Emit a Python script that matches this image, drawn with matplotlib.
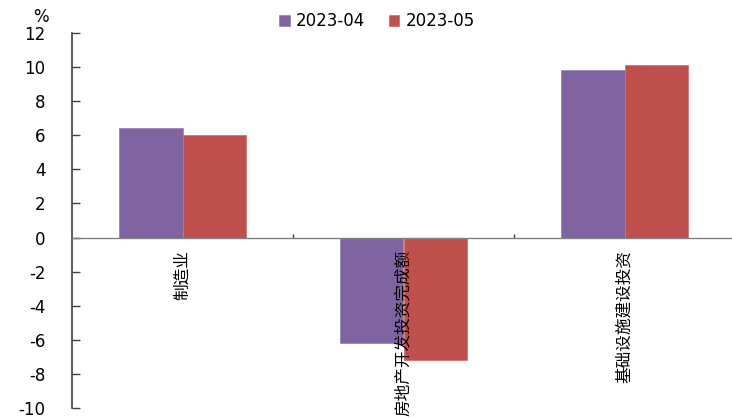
import matplotlib
matplotlib.use("Agg")
import matplotlib.pyplot as plt
import numpy as np

categories = ["制造业", "房地产开发投资完成额", "基础设施建设投资"]
series_names = ["2023-04", "2023-05"]
apr_values = [6.4, -6.2, 9.8]
may_values = [6.0, -7.2, 10.1]
y_ticks = [-10, -8, -6, -4, -2, 0, 2, 4, 6, 8, 10, 12]

colors = ["#8064A2", "#C0504D"]

plt.rcParams["font.family"] = ["DejaVu Sans"]

fig = plt.figure(figsize=(7.32, 4.18), dpi=100)
ax = fig.add_axes([72 / 732, 1 - 408 / 418, 663 / 732, 375 / 418])

x = np.arange(len(categories))
w = 0.287
ax.bar(x - w / 2, apr_values, w, color=colors[0], label=series_names[0],
       edgecolor="#9A86B8", linewidth=0.6)
ax.bar(x + w / 2, may_values, w, color=colors[1], label=series_names[1],
       edgecolor="#D07370", linewidth=0.6)

ax.set_xlim(-0.5, len(categories) - 0.5)
ax.set_ylim(-10, 12)
ax.set_yticks(y_ticks)
ax.set_yticklabels([str(v) for v in y_ticks], fontsize=12)

for s in ["top", "right"]:
    ax.spines[s].set_visible(False)
ax.spines["left"].set_color("#404040")
ax.spines["left"].set_linewidth(1.2)
ax.spines["bottom"].set_position(("data", 0))
ax.spines["bottom"].set_color("#808080")
ax.spines["bottom"].set_linewidth(1.0)

ax.tick_params(axis="y", direction="in", length=6, width=1, color="#404040",
               pad=19, labelcolor="black")
ax.set_xticks([0.5, 1.5])
ax.set_xticklabels([])
ax.tick_params(axis="x", direction="in", length=3, width=1, color="#404040")

for i, name in enumerate(categories):
    ax.annotate(name, xy=(i, 0), xytext=(0, -9), textcoords="offset points",
                rotation=90, ha="center", va="top", fontsize=12,
                family=["Noto Sans CJK SC", "DejaVu Sans"], color="black",
                annotation_clip=False)

fig.text(41 / 732, 1 - 17 / 418, "%", fontsize=12, ha="center", va="center")

fig.legend(loc="center", bbox_to_anchor=(377 / 732, 1 - 21 / 418), ncol=2,
           frameon=False, fontsize=12, handlelength=0.65, handleheight=0.65,
           handletextpad=0.35, columnspacing=1.4, borderpad=0)

fig.savefig("out.png", dpi=100)
